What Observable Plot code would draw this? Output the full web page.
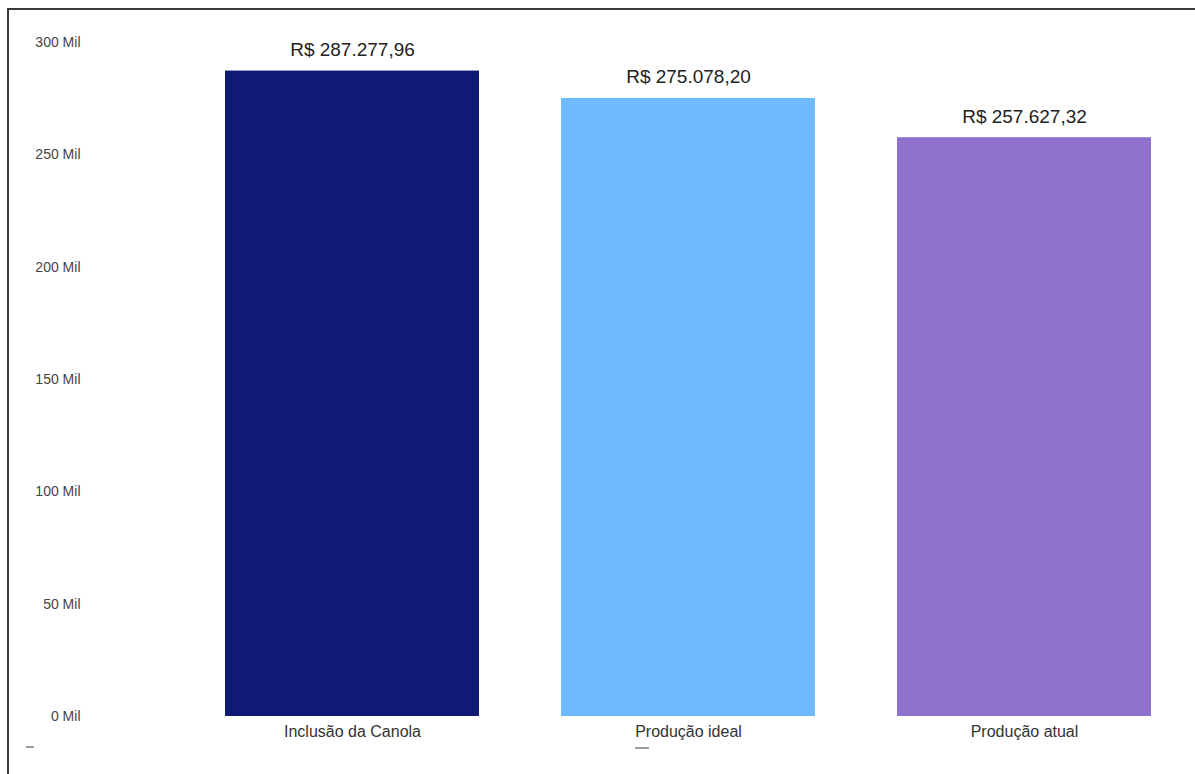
<!DOCTYPE html>
<html>
<head>
<meta charset="utf-8">
<script src="https://cdn.jsdelivr.net/npm/d3@7"></script>
<script src="https://cdn.jsdelivr.net/npm/@observablehq/plot@0.6"></script>
<style>
  html, body { margin: 0; padding: 0; background: #fff; }
  #wrap { position: relative; width: 1195px; height: 774px; overflow: hidden; }
  #wrap svg { position: absolute; left: 0; top: 0; }
  .frame { position: absolute; left: 7px; top: 8px; right: -10px; bottom: -10px;
           border-top: 2px solid #3a3a3a; border-left: 2px solid #3a3a3a; pointer-events: none; }
  .dash { position: absolute; height: 2px; background: #9a9a9a; }
</style>
</head>
<body>
<div id="wrap"></div>
<script>
const categories = ["Inclusão da Canola", "Produção ideal", "Produção atual"];
const values = [287277.96, 275078.20, 257627.32];
const colors = ["#0f1a74", "#6fbaff", "#8f71cd"];
const yTicks = [0, 50000, 100000, 150000, 200000, 250000, 300000];

const data = categories.map((c, i) => ({category: c, value: values[i]}));
const brl = v => "R$ " + v.toLocaleString("pt-BR", {minimumFractionDigits: 2, maximumFractionDigits: 2});

const chart = Plot.plot({
  width: 1195,
  height: 774,
  marginLeft: 223.5,
  marginRight: 43,
  marginTop: 42,
  marginBottom: 58,
  style: {fontFamily: "Arial, 'Liberation Sans', sans-serif", background: "transparent", overflow: "visible"},
  x: {domain: categories, paddingInner: 0.243, paddingOuter: 0, label: null},
  y: {domain: [0, 300000], label: null},
  color: {domain: categories, range: colors},
  marks: [
    Plot.barY(data, {x: "category", y: "value", fill: "category"}),
    Plot.axisY({ticks: yTicks, tickFormat: d => `${d / 1000} Mil`, tickSize: 0, tickPadding: 143.5,
                fontSize: 14, fill: "#444", letterSpacing: 1, label: null}),
    Plot.axisX({tickSize: 0, tickPadding: 9, fontSize: 16, fill: "#333", letterSpacing: 1, label: null}),
    Plot.text(data, {x: "category", y: "value", text: d => brl(d.value), dy: -15, lineAnchor: "bottom",
                     fontSize: 19, fill: "#222", letterSpacing: 1.2})
  ]
});

const wrap = document.getElementById("wrap");
wrap.appendChild(chart);
const frame = document.createElement("div");
frame.className = "frame";
wrap.appendChild(frame);
for (const [l, t, w] of [[26, 746, 8], [635, 747, 14]]) {
  const d = document.createElement("div");
  d.className = "dash";
  d.style.left = l + "px"; d.style.top = t + "px"; d.style.width = w + "px";
  wrap.appendChild(d);
}
</script>
</body>
</html>
